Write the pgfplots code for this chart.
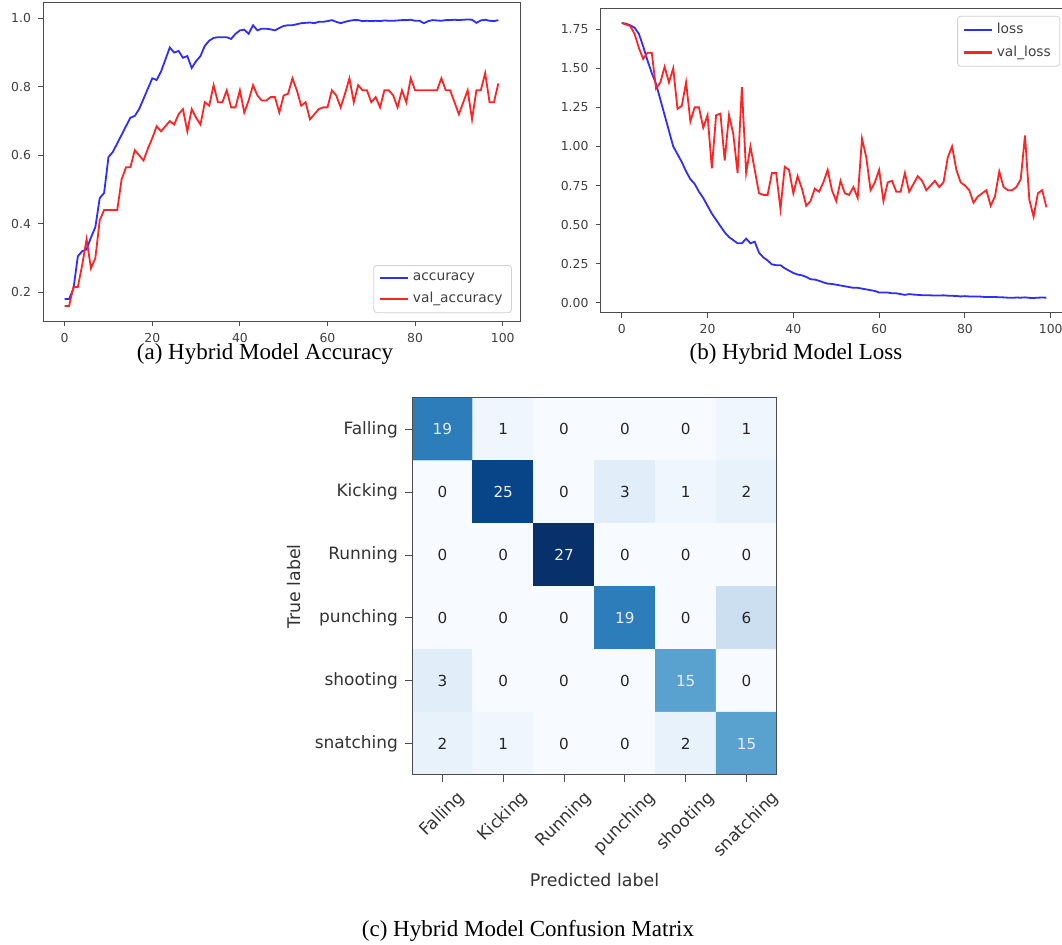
\documentclass[border=0pt]{standalone}
\usepackage{pgfplots}
\pgfplotsset{compat=1.18}
\usepackage{pgfplotstable}
\usepackage{graphicx}
\usepackage{fontspec}
\setmainfont{DejaVu Sans}
\newfontfamily\capfont{Liberation Serif}

\definecolor{lblue}{RGB}{45,45,255}
\definecolor{lred}{RGB}{255,35,35}
\definecolor{spine}{gray}{0.3}

% accuracy: epoch, acc, val_acc
\pgfplotstableread{
e acc val
0 0.180 0.160
1 0.180 0.160
2 0.210 0.215
3 0.305 0.215
4 0.320 0.280
5 0.325 0.355
6 0.360 0.270
7 0.390 0.300
8 0.475 0.410
9 0.490 0.440
10 0.595 0.440
11 0.610 0.440
12 0.635 0.440
13 0.660 0.530
14 0.685 0.565
15 0.710 0.565
16 0.715 0.615
17 0.735 0.600
18 0.765 0.585
19 0.795 0.620
20 0.825 0.650
21 0.820 0.685
22 0.845 0.670
23 0.880 0.685
24 0.915 0.700
25 0.900 0.690
26 0.905 0.720
27 0.885 0.735
28 0.890 0.670
29 0.855 0.735
30 0.875 0.710
31 0.890 0.690
32 0.920 0.755
33 0.935 0.745
34 0.943 0.805
35 0.945 0.755
36 0.945 0.755
37 0.945 0.790
38 0.940 0.740
39 0.955 0.740
40 0.965 0.790
41 0.967 0.725
42 0.955 0.760
43 0.980 0.805
44 0.965 0.775
45 0.970 0.760
46 0.970 0.760
47 0.968 0.770
48 0.965 0.770
49 0.972 0.725
50 0.978 0.775
51 0.980 0.780
52 0.980 0.825
53 0.983 0.790
54 0.986 0.745
55 0.987 0.755
56 0.988 0.705
57 0.986 0.720
58 0.990 0.735
59 0.990 0.740
60 0.992 0.740
61 0.995 0.790
62 0.990 0.775
63 0.986 0.740
64 0.990 0.780
65 0.993 0.825
66 0.995 0.755
67 0.995 0.805
68 0.992 0.790
69 0.993 0.790
70 0.992 0.755
71 0.993 0.770
72 0.992 0.740
73 0.994 0.790
74 0.993 0.790
75 0.993 0.775
76 0.994 0.740
77 0.995 0.790
78 0.995 0.755
79 0.996 0.825
80 0.993 0.790
81 0.993 0.790
82 0.986 0.790
83 0.992 0.790
84 0.995 0.790
85 0.994 0.790
86 0.993 0.825
87 0.995 0.790
88 0.995 0.790
89 0.996 0.755
90 0.995 0.720
91 0.996 0.755
92 0.997 0.790
93 0.996 0.705
94 0.987 0.790
95 0.994 0.790
96 0.996 0.840
97 0.993 0.755
98 0.992 0.755
99 0.995 0.810
}\acctable

% loss: epoch, loss, val_loss
\pgfplotstableread{
e loss val
0 1.790 1.790
1 1.785 1.780
2 1.775 1.770
3 1.760 1.720
4 1.720 1.630
5 1.640 1.560
6 1.550 1.600
7 1.470 1.600
8 1.400 1.370
9 1.300 1.410
10 1.200 1.510
11 1.100 1.410
12 1.000 1.500
13 0.950 1.240
14 0.900 1.260
15 0.840 1.410
16 0.790 1.160
17 0.760 1.250
18 0.710 1.250
19 0.670 1.120
20 0.620 1.200
21 0.570 0.860
22 0.530 1.200
23 0.490 1.210
24 0.450 0.910
25 0.420 1.200
26 0.400 1.080
27 0.380 0.830
28 0.380 1.380
29 0.410 0.830
30 0.380 1.000
31 0.390 0.850
32 0.320 0.700
33 0.290 0.690
34 0.270 0.690
35 0.245 0.830
36 0.240 0.830
37 0.240 0.600
38 0.220 0.870
39 0.205 0.850
40 0.190 0.700
41 0.180 0.810
42 0.175 0.730
43 0.165 0.620
44 0.150 0.650
45 0.148 0.730
46 0.140 0.710
47 0.130 0.770
48 0.122 0.850
49 0.120 0.720
50 0.115 0.650
51 0.110 0.780
52 0.105 0.700
53 0.100 0.690
54 0.095 0.740
55 0.095 0.670
56 0.090 1.050
57 0.085 0.930
58 0.080 0.720
59 0.075 0.770
60 0.065 0.850
61 0.065 0.650
62 0.065 0.770
63 0.060 0.780
64 0.060 0.710
65 0.055 0.710
66 0.050 0.830
67 0.055 0.710
68 0.052 0.760
69 0.050 0.810
70 0.048 0.780
71 0.048 0.720
72 0.047 0.750
73 0.046 0.780
74 0.046 0.740
75 0.047 0.770
76 0.045 0.930
77 0.044 1.000
78 0.043 0.850
79 0.040 0.770
80 0.042 0.750
81 0.040 0.720
82 0.040 0.640
83 0.040 0.680
84 0.038 0.700
85 0.036 0.720
86 0.037 0.620
87 0.036 0.680
88 0.035 0.840
89 0.034 0.740
90 0.032 0.720
91 0.031 0.720
92 0.033 0.740
93 0.032 0.790
94 0.034 1.070
95 0.031 0.660
96 0.030 0.550
97 0.032 0.700
98 0.033 0.720
99 0.032 0.610
}\losstable

% confusion matrix: predicted (x), true (y), count
\pgfplotstableread{
x y v
0 0 19
1 0 1
2 0 0
3 0 0
4 0 0
5 0 1
0 1 0
1 1 25
2 1 0
3 1 3
4 1 1
5 1 2
0 2 0
1 2 0
2 2 27
3 2 0
4 2 0
5 2 0
0 3 0
1 3 0
2 3 0
3 3 19
4 3 0
5 3 6
0 4 3
1 4 0
2 4 0
3 4 0
4 4 15
5 4 0
0 5 2
1 5 1
2 5 0
3 5 0
4 5 2
5 5 15
}\cmtable

\pgfplotsset{
  mpl/.style={
    scale only axis,
    axis line style={spine, line width=0.5pt},
    tick align=outside,
    tick pos=left,
    major tick length=2.5pt,
    tick style={spine, line width=0.5pt},
    tick label style={font=\fontsize{6.2}{7}\selectfont, text=black!75},
    /pgf/number format/assume math mode=true,
    legend cell align=left,
    legend style={draw=black!18, rounded corners=1.5pt,
      font=\fontsize{6.9}{8.5}\selectfont, text=black!75,
      inner xsep=2.5pt, inner ysep=1.5pt, row sep=0.5pt},
    legend image code/.code={\draw[##1, line width=1.1pt] (0pt,0pt) -- (14pt,0pt);},
  },
}

\begin{document}
\begin{tikzpicture}
\useasboundingbox (0pt,0pt) rectangle (531pt,-472.5pt);

% (a) accuracy
\begin{axis}[mpl,
    at={(21.5pt,-1.5pt)}, anchor=north west,
    width=238.5pt, height=159pt,
    xmin=-4.95, xmax=103.95, ymin=0.116, ymax=1.045,
    xtick={0,20,40,60,80,100},
    ytick={0.2,0.4,0.6,0.8,1.0},
    yticklabel style={/pgf/number format/.cd, fixed, fixed zerofill, precision=1},
    legend style={at={(0.983,0.025)}, anchor=south east},
  ]
  \addplot[lblue, line width=0.9pt] table[x=e, y=acc] {\acctable};
  \addplot[lred, line width=0.9pt] table[x=e, y=val] {\acctable};
  \legend{accuracy, val\_accuracy}
\end{axis}

% (b) loss
\begin{axis}[mpl,
    at={(300.25pt,-4.15pt)}, anchor=north west,
    width=233.6pt, height=152.2pt,
    xmin=-4.95, xmax=103.95, ymin=-0.064, ymax=1.884,
    xtick={0,20,40,60,80,100},
    ytick={0,0.25,0.5,0.75,1,1.25,1.5,1.75},
    yticklabel style={/pgf/number format/.cd, fixed, fixed zerofill, precision=2},
    legend style={at={(0.984,0.975)}, anchor=north east},
  ]
  \addplot[lblue, line width=0.9pt] table[x=e, y=loss] {\losstable};
  \addplot[lred, line width=0.9pt] table[x=e, y=val] {\losstable};
  \legend{loss, val\_loss}
\end{axis}

% (c) confusion matrix
\begin{axis}[
    at={(206pt,-199pt)}, anchor=north west,
    scale only axis, width=182.5pt, height=188.5pt,
    xmin=-0.5, xmax=5.5, ymin=-0.5, ymax=5.5, y dir=reverse,
    axis on top,
    axis line style={spine, line width=0.5pt},
    tick align=outside, tick pos=left,
    major tick length=3.5pt,
    tick style={spine, line width=0.5pt},
    tick label style={font=\fontsize{8.5}{10}\selectfont, text=black!80},
    label style={font=\fontsize{8.7}{10}\selectfont, text=black!80},
    xtick={0,...,5}, ytick={0,...,5},
    xticklabels={\rotatebox{45}{Falling}, \rotatebox{45}{Kicking}, \rotatebox{45}{Running},
      \rotatebox{45}{punching}, \rotatebox{45}{shooting}, \rotatebox{45}{snatching}},
    yticklabels={Falling, Kicking, Running, punching, shooting, snatching},
    xticklabel style={anchor=north, inner sep=0pt, yshift=-3.5pt},
    xlabel={Predicted label}, ylabel={True label},
    xlabel style={yshift=-3pt},
    colormap={blues}{rgb=(0.9686,0.9843,1) rgb=(0.8706,0.9216,0.9686)
      rgb=(0.7765,0.8588,0.9373) rgb=(0.6196,0.7922,0.8824)
      rgb=(0.4196,0.6824,0.8392) rgb=(0.2588,0.5725,0.7765)
      rgb=(0.1294,0.4431,0.7098) rgb=(0.0314,0.3176,0.6118)
      rgb=(0.0314,0.1882,0.4196)},
    point meta min=0, point meta max=27,
  ]
  \addplot[matrix plot*, mesh/cols=6, point meta=explicit] table[x=x, y=y, meta=v] {\cmtable};
  % counts: dark text on light cells, white text on dark cells
  \addplot[draw=none, mark=none, nodes near coords, nodes near coords align=center,
    point meta=explicit symbolic,
    every node near coord/.append style={font=\fontsize{7.6}{9}\selectfont, text=black!85},
    x filter/.expression={\thisrow{v}>13 ? nan : x}]
    table[x=x, y=y, meta=v] {\cmtable};
  \addplot[draw=none, mark=none, nodes near coords, nodes near coords align=center,
    point meta=explicit symbolic,
    every node near coord/.append style={font=\fontsize{7.6}{9}\selectfont, text=white!92!blue},
    x filter/.expression={\thisrow{v}>13 ? x : nan}]
    table[x=x, y=y, meta=v] {\cmtable};
\end{axis}

\node[font=\capfont\fontsize{11.5}{13}\selectfont] at (132.5pt,-177pt) {(a) Hybrid Model Accuracy};
\node[font=\capfont\fontsize{11.5}{13}\selectfont] at (398pt,-177pt) {(b) Hybrid Model Loss};
\node[font=\capfont\fontsize{11.5}{13}\selectfont] at (264pt,-465.5pt) {(c) Hybrid Model Confusion Matrix};
\end{tikzpicture}
\end{document}
